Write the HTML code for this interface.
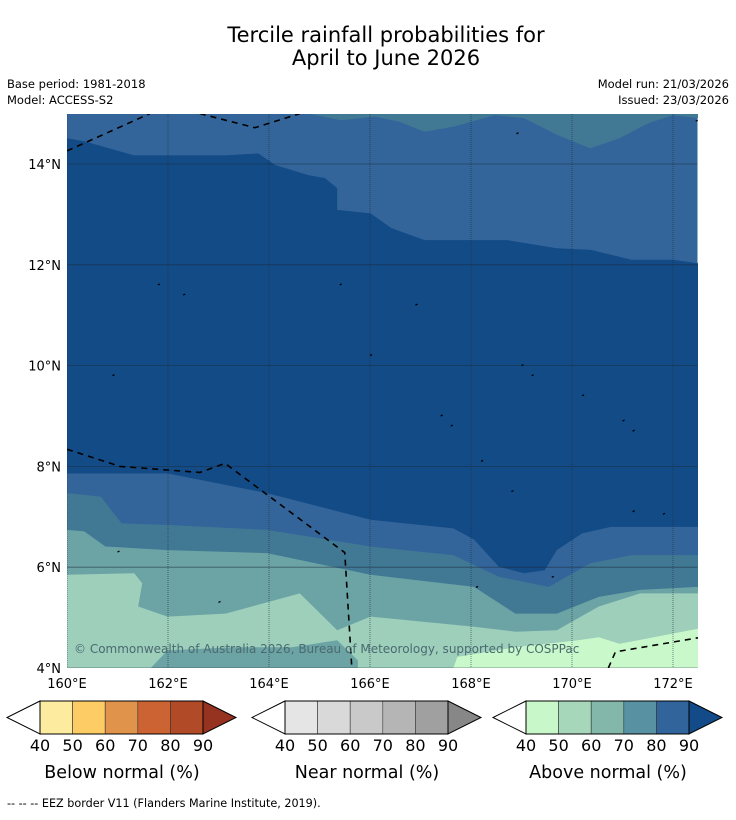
<!DOCTYPE html>
<html><head><meta charset="utf-8">
<style>
body{margin:0;background:#fff;width:736px;height:816px;overflow:hidden;font-family:"DejaVu Sans","Liberation Sans",sans-serif;}
svg text{font-family:"DejaVu Sans","Liberation Sans",sans-serif;}
</style></head>
<body>
<svg id="chart" width="736" height="816" viewBox="0 0 736 816" xmlns="http://www.w3.org/2000/svg">
<text x="386" y="42" font-size="21" text-anchor="middle" fill="#000">Tercile rainfall probabilities for</text>
<text x="386" y="65" font-size="21" text-anchor="middle" fill="#000">April to June 2026</text>
<text x="7" y="88" font-size="11.5">Base period: 1981-2018</text>
<text x="7" y="104" font-size="11.5">Model: ACCESS-S2</text>
<text x="729" y="88" font-size="11.5" text-anchor="end">Model run: 21/03/2026</text>
<text x="729" y="104" font-size="11.5" text-anchor="end">Issued: 23/03/2026</text>
<defs><clipPath id="plotclip"><rect x="67" y="114" width="631" height="554"/></clipPath></defs>
<g id="map" clip-path="url(#plotclip)"></g>
<g id="axes"></g>
<g id="legends"></g>
<text x="7" y="807" font-size="11.2">--  --  -- EEZ border V11 (Flanders Marine Institute, 2019).</text>
</svg>
<script>
// ---- data ----
const lonTicks = [160,162,164,166,168,170,172];
const latTicks = [4,6,8,10,12,14];
const lonTickLabels = ["160°E","162°E","164°E","166°E","168°E","170°E","172°E"];
const latTickLabels = ["4°N","6°N","8°N","10°N","12°N","14°N"];
const bandColors = ["#134b87","#33659a","#417995","#6ca4a5","#9dcfbb","#c9f9ca"];
const b1Lon = [160,162,163.96,166.01,167.65,168.06,168.55,169.05,169.46,169.7,170.2,170.77,172.5];
const b1Lat = [7.86,7.86,7.47,6.94,6.77,6.55,6.01,5.88,5.94,6.34,6.67,6.80,6.80];
const b2Lon = [160,160.67,161.08,161.99,163.96,166.01,167.65,168.55,169.54,170.36,171.18,172.5];
const b2Lat = [7.47,7.40,6.87,6.84,6.74,6.41,6.24,5.81,5.61,6.08,6.24,6.24];
const b3Lon = [160,160.34,160.76,161.99,163.96,166.01,168.06,168.88,169.7,170.53,171.35,172.5];
const b3Lat = [6.74,6.71,6.41,6.34,6.28,5.85,5.61,5.08,5.08,5.41,5.55,5.61];
const b4Lon = [160,161.33,161.49,161.41,161.99,163.14,164.61,165.35,166.01,168.06,168.88,169.7,170.53,171.35,172.5];
const b4Lat = [5.85,5.88,5.68,5.22,5.02,5.08,5.48,4.75,5.02,4.82,4.72,4.75,5.22,5.48,5.48];
const patchLon = [161.66,161.99,163.3,164.45,165.35,165.76,165.76];
const patchLat = [4.0,4.35,4.41,4.41,4.55,4.15,4.0];
const greenLon = [167.65,167.73,168.88,170.12,170.53,170.94,172.5,172.5];
const greenLat = [4.0,4.22,4.41,4.55,4.61,4.48,4.78,4.0];
const t1Lon = [160,160.34,161.33,163.14,163.79,164.12,164.78,165.11,165.35,165.35,166.01,166.42,167.08,168.72,169.7,170.36,171.18,172.0,172.5];
const t1Lat = [14.51,14.45,14.17,14.17,14.21,13.98,13.78,13.72,13.52,13.09,13.02,12.73,12.49,12.49,12.33,12.30,12.10,12.10,12.03];
const t0Lon = [164.78,165.43,166.09,166.58,167.08,167.65,168.47,169.05,169.7,170.36,170.94,171.51,172.0,172.5];
const t0Lat = [15.0,14.87,14.94,14.84,14.64,14.74,14.97,14.91,14.58,14.31,14.51,14.81,14.97,14.91];
const eezA = [[160,14.26],[161.64,15.0]];
const eezB = [[162.63,15.0],[163.72,14.72],[164.61,15.0]];
const eezC = [[160,8.34],[161.05,8.0],[162.63,7.88],[163.13,8.06],[165.5,6.29],[165.64,4.0]];
const eezD = [[170.72,4.0],[170.86,4.32],[172.5,4.6]];
const islands = [[161.8,11.6],[162.3,11.4],[165.4,11.6],[166.0,10.2],[166.9,11.2],[169.0,10.0],[169.2,9.8],[170.2,9.4],[171.0,8.9],[171.2,8.7],[168.2,8.1],[168.8,7.5],[171.2,7.1],[171.8,7.05],[169.6,5.8],[168.1,5.6],[161.0,6.3],[163.0,5.3],[160.9,9.8],[167.4,9.0],[167.6,8.8],[168.9,14.6],[172.45,14.85]];
const legendTicks = ["40","50","60","70","80","90"];
const belowColors = ["#fdeb9f","#fdcc65","#e0944b","#cc6333","#b04a27","#963220"];
const nearColors = ["#e5e5e5","#d9d9d9","#c9c9c9","#b5b5b5","#a0a0a0","#878787"];
const aboveColors = ["#c8f8c9","#a6d7bb","#82b7aa","#5891a2","#30649a","#124b87"];
const legendTitles = ["Below normal (%)","Near normal (%)","Above normal (%)"];

// ---- axes ----
const X0=67, X1=697.5, Y0=668, Y1=114;
function xs(lon){return X0+(lon-160)*50.5;}
function ys(lat){return Y0-(lat-4)*50.4;}
const NS="http://www.w3.org/2000/svg";
function mk(tag,attrs,parent){const e=document.createElementNS(NS,tag);for(const k in attrs)e.setAttribute(k,attrs[k]);parent.appendChild(e);return e;}
function pts(lons,lats){return lons.map((l,i)=>xs(l).toFixed(1)+","+ys(lats[i]).toFixed(1)).join(" ");}
const map=document.getElementById('map');
const axes=document.getElementById('axes');
const leg=document.getElementById('legends');

let r=mk('rect',{x:X0,y:Y1,width:X1-X0,height:Y0-Y1,fill:bandColors[1]},map);


let p=mk('polygon',{points:pts(t1Lon,t1Lat)+" "+xs(172.5)+","+ys(4)+" "+xs(160)+","+ys(4),fill:bandColors[0]},map);


p=mk('polygon',{points:pts(t0Lon,t0Lat)+" "+xs(172.5)+","+ys(15.1)+" "+xs(164.78)+","+ys(15.1),fill:bandColors[2]},map);


const lower=[[b1Lon,b1Lat,1,'band-80-90-south'],[b2Lon,b2Lat,2,'band-70-80'],[b3Lon,b3Lat,3,'band-60-70'],[b4Lon,b4Lat,4,'band-50-60']];
lower.forEach(([lo,la,c,nm])=>{
  const e=mk('polygon',{points:pts(lo,la)+" "+xs(172.6)+","+ys(3.9)+" "+xs(159.9)+","+ys(3.9),fill:bandColors[c]},map);
  
  
});
p=mk('polygon',{points:pts(patchLon,patchLat),fill:bandColors[3]},map);


p=mk('polygon',{points:pts(greenLon,greenLat),fill:bandColors[5]},map);


lonTicks.forEach(l=>{const g=mk('line',{x1:xs(l),x2:xs(l),y1:Y1,y2:Y0,stroke:"#1a2a3a","stroke-width":0.8,"stroke-dasharray":"1,1","stroke-opacity":0.7},map);

});
latTicks.forEach(l=>{const g=mk('line',{x1:X0,x2:X1,y1:ys(l),y2:ys(l),stroke:"#1a2a3a","stroke-width":0.8,"stroke-opacity":0.6},map);

});
[eezA,eezB,eezC,eezD].forEach(seg=>{const e=mk('polyline',{points:seg.map(q=>xs(q[0])+","+ys(q[1])).join(" "),fill:"none",stroke:"#000","stroke-width":1.6,"stroke-dasharray":"6,5"},map);

});
islands.forEach(q=>{const e=mk('path',{d:"M"+xs(q[0])+","+ys(q[1])+" l2,-1",stroke:"#000","stroke-width":1.3,fill:"none"},map);

});
let ct=mk('text',{x:74,y:653,"font-size":12,fill:"#4a6a70"},map);
ct.textContent="© Commonwealth of Australia 2026, Bureau of Meteorology, supported by COSPPac";


lonTicks.forEach((l,i)=>{const t=mk('text',{x:xs(l),y:688,"font-size":13,"text-anchor":"middle"},axes);t.textContent=lonTickLabels[i];

});
latTicks.forEach((l,i)=>{const t=mk('text',{x:61,y:ys(l)+5,"font-size":13,"text-anchor":"end"},axes);t.textContent=latTickLabels[i];

});
const legStarts=[40,285,526];
[belowColors,nearColors,aboveColors].forEach((cols,k)=>{
  const x0=legStarts[k], w=163/5, yt=701, yb=734, ym=717.5;
  const g=mk('g',{},leg);
  
  
  mk('polygon',{points:`${x0},${yt} ${x0-33},${ym} ${x0},${yb}`,fill:"#fff",stroke:"#000","stroke-width":1},g);
  for(let i=0;i<5;i++){mk('rect',{x:x0+i*w,y:yt,width:w,height:yb-yt,fill:cols[i],stroke:"#333","stroke-width":0.6},g);}
  mk('polygon',{points:`${x0+163},${yt} ${x0+196},${ym} ${x0+163},${yb}`,fill:cols[5],stroke:"#000","stroke-width":1},g);
  mk('rect',{x:x0,y:yt,width:163,height:yb-yt,fill:"none",stroke:"#000","stroke-width":1},g);
  legendTicks.forEach((t,i)=>{const e=mk('text',{x:x0+i*w,y:751,"font-size":16,"text-anchor":"middle"},g);e.textContent=t;
  
  });
  const tt=mk('text',{x:x0+82,y:778,"font-size":17.5,"text-anchor":"middle"},g);tt.textContent=legendTitles[k];
  
  
});
</script>
</body></html>
